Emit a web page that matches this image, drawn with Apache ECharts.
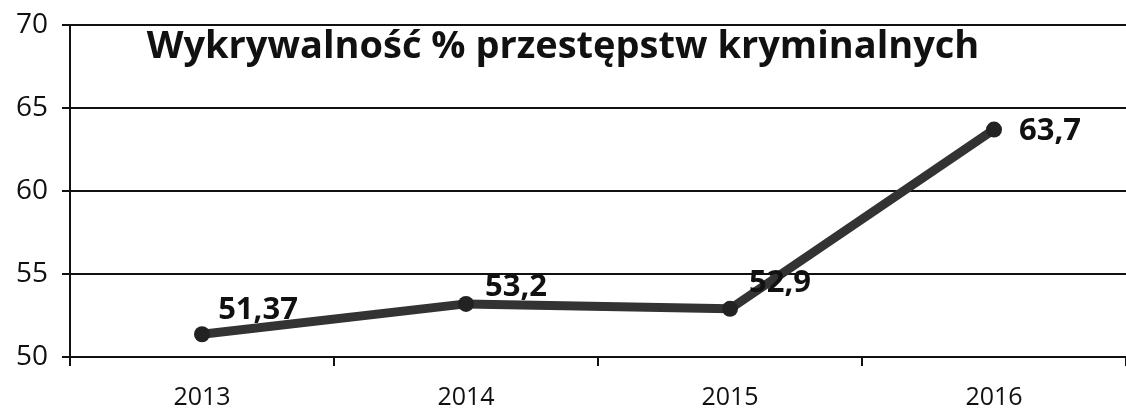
<!DOCTYPE html>
<html><head><meta charset="utf-8">
<script src="https://cdn.jsdelivr.net/npm/echarts@6/dist/echarts.min.js"></script>
<style>html,body{margin:0;padding:0;background:#fff}#c{width:1126px;height:419px}</style>
</head><body><div id="c"></div>
<script>
const title = 'Wykrywalność % przestępstw kryminalnych';
const categories = ['2013', '2014', '2015', '2016'];
const values = [51.37, 53.2, 52.9, 63.7];
const labels = ['51,37', '53,2', '52,9', '63,7'];
const yTicks = [50, 55, 60, 65, 70];

const offsets = [[56, -24], [50, -17], [50, -26], [56, 2]];
const chart = echarts.init(document.getElementById('c'));
chart.setOption({
  backgroundColor: '#fff',
  animation: false,
  title: {
    text: title, left: 'center', top: 23,
    textStyle: {fontFamily: 'Open Sans', fontWeight: 'bold', fontSize: 38, color: '#111'}
  },
  grid: {left: 70, right: -8, top: 25, bottom: 62},
  xAxis: {
    type: 'category', data: categories, boundaryGap: true,
    axisLine: {lineStyle: {color: '#111', width: 2}},
    axisTick: {show: true, length: 9, lineStyle: {color: '#111', width: 2}},
    axisLabel: {color: '#111', fontFamily: 'Open Sans', fontSize: 25, margin: 28}
  },
  yAxis: {
    type: 'value', min: yTicks[0], max: yTicks[yTicks.length - 1], interval: 5,
    axisLine: {show: true, lineStyle: {color: '#111', width: 2}},
    axisTick: {show: true, length: 8, lineStyle: {color: '#111', width: 2}},
    splitLine: {lineStyle: {color: '#111', width: 2}},
    axisLabel: {color: '#111', fontFamily: 'Open Sans', fontSize: 28, margin: 22}
  },
  series: [{
    type: 'line',
    data: values.map((v, i) => ({
      value: v,
      label: {show: true, position: 'inside', offset: offsets[i], formatter: labels[i]}
    })),
    symbol: 'circle', symbolSize: 16,
    lineStyle: {color: '#333', width: 9},
    itemStyle: {color: '#222'},
    label: {color: '#111', fontFamily: 'Open Sans', fontWeight: 'bold', fontSize: 31}
  }]
});
</script></body></html>
